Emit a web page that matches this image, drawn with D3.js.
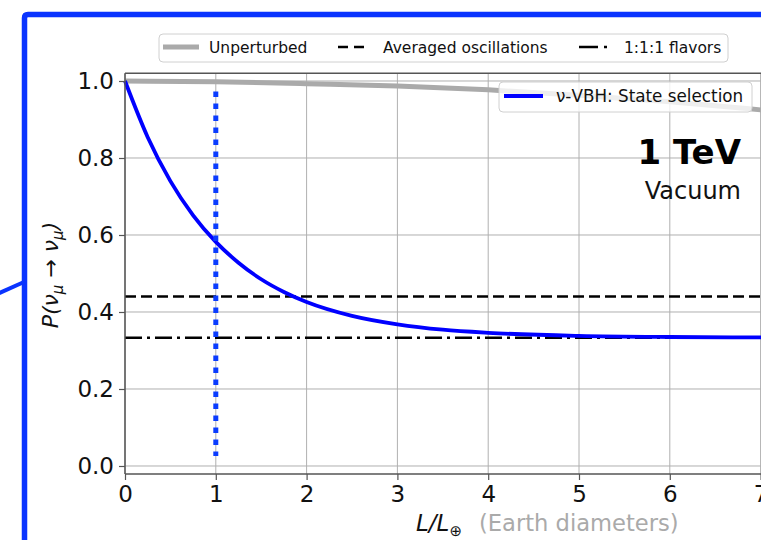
<!DOCTYPE html>
<head>
  <meta charset="utf-8">
  <script src="https://d3js.org/d3.v7.min.js"></script>
  <style>
    body { margin:0; background:#fff; }
    text { font-family: "DejaVu Sans", sans-serif; }
  </style>
</head>
<body>
<script>
  var width = 761, height = 540;

  // values
  var xTicks = [0, 1, 2, 3, 4, 5, 6, 7];
  var yTicks = [0.0, 0.2, 0.4, 0.6, 0.8, 1.0];

  var unpertL = [0, 1, 2, 3, 4, 5, 6, 7, 7.5];
  var unpertP = [1.0, 0.998, 0.993, 0.987, 0.977, 0.963, 0.946, 0.925, 0.914];

  var vbhL = [0, 0.25, 0.5, 0.75, 1, 1.25, 1.5, 1.75, 2, 2.5, 3, 3.5, 4, 5, 6, 7, 7.5];
  var vbhP = [1.0, 0.854, 0.740, 0.651, 0.582, 0.528, 0.485, 0.452, 0.426, 0.390, 0.368, 0.354, 0.346, 0.338, 0.335, 0.334, 0.334];

  var averagedP = 0.44;
  var flavorsP = 0.333;
  var markerL = 1;
  var markerP = [0.026, 0.973];

  var legendTop = ["Unperturbed", "Averaged oscillations", "1:1:1 flavors"];
  var legendIn = "\u03bd-VBH: State selection";

  var svg = d3.select("body").append("svg")
    .attr("width", width).attr("height", height);

  var x = d3.scaleLinear().domain([0, 7]).range([125, 760.6]);
  var y = d3.scaleLinear().domain([-0.0208, 1.02]).range([474, 73.3]);

  // grid
  svg.append("g").selectAll("line").data(xTicks).enter().append("line")
    .attr("x1", d => x(d)).attr("x2", d => x(d))
    .attr("y1", y.range()[1]).attr("y2", y.range()[0])
    .attr("stroke", "#b0b0b0").attr("stroke-width", 1);
  svg.append("g").selectAll("line").data(yTicks).enter().append("line")
    .attr("x1", x(0)).attr("x2", width)
    .attr("y1", d => y(d)).attr("y2", d => y(d))
    .attr("stroke", "#b0b0b0").attr("stroke-width", 1);

  var line = d3.line().x(d => x(d[0])).y(d => y(d[1])).curve(d3.curveMonotoneX);

  // averaged + flavors
  svg.append("line")
    .attr("x1", x(0)).attr("x2", width)
    .attr("y1", y(averagedP)).attr("y2", y(averagedP))
    .attr("stroke", "#000").attr("stroke-width", 2.5)
    .attr("stroke-dasharray", "11,5");
  svg.append("line")
    .attr("x1", x(0)).attr("x2", width)
    .attr("y1", y(flavorsP)).attr("y2", y(flavorsP))
    .attr("stroke", "#000").attr("stroke-width", 2.5)
    .attr("stroke-dasharray", "17,5,3,5");

  // unperturbed
  svg.append("path")
    .attr("d", line(d3.zip(unpertL, unpertP)))
    .attr("fill", "none").attr("stroke", "#aaaaaa").attr("stroke-width", 5);

  // vbh
  svg.append("path")
    .attr("d", line(d3.zip(vbhL, vbhP)))
    .attr("fill", "none").attr("stroke", "#0000ff").attr("stroke-width", 3.8);

  // marker at one earth diameter
  svg.append("line")
    .attr("x1", x(markerL)).attr("x2", x(markerL))
    .attr("y1", y(markerP[1])).attr("y2", y(markerP[0]))
    .attr("stroke", "#0a3cff").attr("stroke-width", 5)
    .attr("stroke-dasharray", "5.5,6.5");

  // spines
  svg.append("line").attr("x1", x(0)).attr("x2", width)
    .attr("y1", y.range()[1]).attr("y2", y.range()[1])
    .attr("stroke", "#555").attr("stroke-width", 1.5);

  var xAxis = svg.append("g")
    .attr("transform", "translate(0," + y.range()[0] + ")")
    .call(d3.axisBottom(x).tickValues(xTicks).tickSize(6).tickPadding(6).tickFormat(d3.format("d")));
  var yAxis = svg.append("g")
    .attr("transform", "translate(" + x(0) + ",0)")
    .call(d3.axisLeft(y).tickValues(yTicks).tickSize(6).tickPadding(5).tickFormat(d3.format(".1f")));
  [xAxis, yAxis].forEach(function(a) {
    a.select(".domain").attr("stroke", "#555").attr("stroke-width", 1.5);
    a.selectAll(".tick line").attr("stroke", "#555").attr("stroke-width", 1.2);
    a.selectAll("text").attr("font-size", 23).attr("fill", "#111")
      .attr("font-family", "DejaVu Sans");
  });
  yAxis.select(".domain").attr("d", "M0," + y.range()[0] + "V" + y.range()[1]);
  xAxis.select(".domain").attr("d", "M" + x(0) + ",0H" + width);

  // inner legend
  svg.append("rect").attr("x", 499).attr("y", 82).attr("width", 253).attr("height", 30)
    .attr("rx", 4).attr("fill", "#fff").attr("fill-opacity", 0.8)
    .attr("stroke", "#d0d0d0").attr("stroke-width", 1);
  svg.append("line").attr("x1", 504).attr("x2", 543).attr("y1", 96).attr("y2", 96)
    .attr("stroke", "#0000ff").attr("stroke-width", 3.8);
  svg.append("text").attr("x", 556).attr("y", 102).attr("font-size", 16.8)
    .attr("fill", "#111").text(legendIn);

  // top legend
  svg.append("rect").attr("x", 159).attr("y", 34).attr("width", 569).attr("height", 28)
    .attr("rx", 4).attr("fill", "#fff")
    .attr("stroke", "#d0d0d0").attr("stroke-width", 1);
  svg.append("line").attr("x1", 163).attr("x2", 199).attr("y1", 47).attr("y2", 47)
    .attr("stroke", "#aaaaaa").attr("stroke-width", 5);
  svg.append("line").attr("x1", 338).attr("x2", 370).attr("y1", 47).attr("y2", 47)
    .attr("stroke", "#000").attr("stroke-width", 2.5).attr("stroke-dasharray", "10,6");
  svg.append("line").attr("x1", 579).attr("x2", 610).attr("y1", 47).attr("y2", 47)
    .attr("stroke", "#000").attr("stroke-width", 2.5).attr("stroke-dasharray", "19,6,3,6");
  var legX = [209, 383, 624];
  legendTop.forEach(function(t, i) {
    svg.append("text").attr("x", legX[i]).attr("y", 53).attr("font-size", 15.5)
      .attr("fill", "#111").text(t);
  });

  // energy annotation
  svg.append("text").attr("x", 741).attr("y", 164).attr("text-anchor", "end")
    .attr("font-family", "Open Sans").attr("font-weight", "bold").attr("font-size", 34)
    .attr("fill", "#000").text("1 TeV");
  svg.append("text").attr("x", 741).attr("y", 199).attr("text-anchor", "end")
    .attr("font-family", "Open Sans").attr("font-size", 24)
    .attr("fill", "#111").text("Vacuum");

  // axis labels
  var xl = svg.append("text").attr("x", 416).attr("y", 531).attr("font-size", 23).attr("fill", "#111");
  xl.append("tspan").attr("font-style", "italic").text("L/L");
  xl.append("tspan").attr("font-size", 15).attr("dy", 5).text("\u2295");
  svg.append("text").attr("x", 479).attr("y", 531)
    .attr("font-family", "Open Sans").attr("font-size", 22.6)
    .attr("fill", "#aaaaaa").text("(Earth diameters)");

  var yl = svg.append("text")
    .attr("transform", "translate(58,275) rotate(-90)")
    .attr("text-anchor", "middle").attr("font-size", 22).attr("fill", "#111");
  yl.append("tspan").attr("font-style", "italic").text("P(\u03bd");
  yl.append("tspan").attr("font-style", "italic").attr("font-size", 15).attr("dy", 5).text("\u03bc");
  yl.append("tspan").attr("dy", -5).text(" \u2192 ");
  yl.append("tspan").attr("font-style", "italic").text("\u03bd");
  yl.append("tspan").attr("font-style", "italic").attr("font-size", 15).attr("dy", 5).text("\u03bc");
  yl.append("tspan").attr("font-style", "italic").attr("dy", -5).text(")");

  // highlight frame + callout
  svg.append("path")
    .attr("d", "M24.5,545 V18 Q24.5,14.5 28,14.5 H770")
    .attr("fill", "none").attr("stroke", "#0a34ff").attr("stroke-width", 5.5);
  svg.append("line").attr("x1", -5).attr("y1", 295).attr("x2", 24).attr("y2", 282)
    .attr("stroke", "#0a34ff").attr("stroke-width", 4);
</script>
</body>
